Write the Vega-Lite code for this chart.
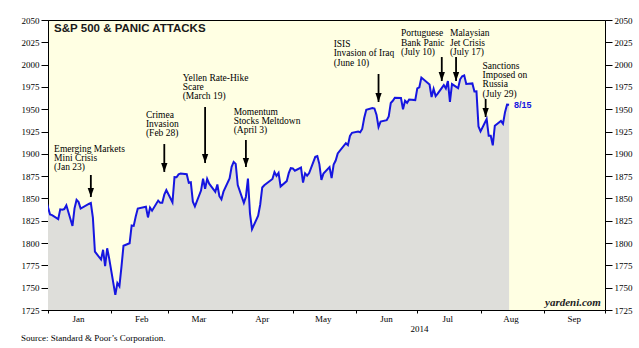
{
  "$schema": "https://vega.github.io/schema/vega-lite/v6.json",
  "width": 557,
  "height": 290,
  "autosize": {"type": "none"},
  "padding": {"left": 48, "top": 20, "right": 34, "bottom": 38},
  "background": "white",
  "config": {
    "view": {"stroke": "black", "strokeWidth": 1, "fill": "#ffffe3"},
    "axis": {"grid": false, "domainColor": "black", "tickColor": "black", "labelColor": "black", "labelFont": "Liberation Serif", "labelFontSize": 9, "titleFont": "Liberation Serif", "titleFontWeight": "normal", "titleFontSize": 9, "titleColor": "black", "labelFlush": false, "labelOverlap": false}
  },
  "title": {"text": "Source: Standard & Poor\u2019s Corporation.", "orient": "bottom", "anchor": "start", "font": "Liberation Serif", "fontSize": 9, "fontWeight": "normal", "color": "black", "offset": 1, "baseline": "top"},
  "datasets": {
    "sp": [
      {"d": "2013-12-31", "v": 1848.36},
      {"d": "2014-01-02", "v": 1831.98}, {"d": "2014-01-03", "v": 1831.37}, {"d": "2014-01-06", "v": 1826.77}, {"d": "2014-01-07", "v": 1837.88}, {"d": "2014-01-08", "v": 1837.49}, {"d": "2014-01-09", "v": 1838.13}, {"d": "2014-01-10", "v": 1842.37}, {"d": "2014-01-13", "v": 1819.20}, {"d": "2014-01-14", "v": 1838.88}, {"d": "2014-01-15", "v": 1848.38}, {"d": "2014-01-16", "v": 1845.89}, {"d": "2014-01-17", "v": 1838.70}, {"d": "2014-01-21", "v": 1843.80}, {"d": "2014-01-22", "v": 1844.86}, {"d": "2014-01-23", "v": 1828.46}, {"d": "2014-01-24", "v": 1790.29}, {"d": "2014-01-27", "v": 1781.56}, {"d": "2014-01-28", "v": 1792.50}, {"d": "2014-01-29", "v": 1774.20}, {"d": "2014-01-30", "v": 1794.19}, {"d": "2014-01-31", "v": 1782.59},
      {"d": "2014-02-03", "v": 1741.89}, {"d": "2014-02-04", "v": 1755.20}, {"d": "2014-02-05", "v": 1751.64}, {"d": "2014-02-06", "v": 1773.43}, {"d": "2014-02-07", "v": 1797.02}, {"d": "2014-02-10", "v": 1799.84}, {"d": "2014-02-11", "v": 1819.75}, {"d": "2014-02-12", "v": 1819.26}, {"d": "2014-02-13", "v": 1829.83}, {"d": "2014-02-14", "v": 1838.63}, {"d": "2014-02-18", "v": 1840.76}, {"d": "2014-02-19", "v": 1828.75}, {"d": "2014-02-20", "v": 1839.78}, {"d": "2014-02-21", "v": 1836.25}, {"d": "2014-02-24", "v": 1847.61}, {"d": "2014-02-25", "v": 1845.12}, {"d": "2014-02-26", "v": 1845.16}, {"d": "2014-02-27", "v": 1854.29}, {"d": "2014-02-28", "v": 1859.45},
      {"d": "2014-03-03", "v": 1845.73}, {"d": "2014-03-04", "v": 1873.91}, {"d": "2014-03-05", "v": 1873.81}, {"d": "2014-03-06", "v": 1877.03}, {"d": "2014-03-07", "v": 1878.04}, {"d": "2014-03-10", "v": 1877.17}, {"d": "2014-03-11", "v": 1867.63}, {"d": "2014-03-12", "v": 1868.20}, {"d": "2014-03-13", "v": 1846.34}, {"d": "2014-03-14", "v": 1841.13}, {"d": "2014-03-17", "v": 1858.83}, {"d": "2014-03-18", "v": 1872.25}, {"d": "2014-03-19", "v": 1860.77}, {"d": "2014-03-20", "v": 1872.01}, {"d": "2014-03-21", "v": 1866.52}, {"d": "2014-03-24", "v": 1857.44}, {"d": "2014-03-25", "v": 1865.62}, {"d": "2014-03-26", "v": 1852.56}, {"d": "2014-03-27", "v": 1849.04}, {"d": "2014-03-28", "v": 1857.62}, {"d": "2014-03-31", "v": 1872.34},
      {"d": "2014-04-01", "v": 1885.52}, {"d": "2014-04-02", "v": 1890.90}, {"d": "2014-04-03", "v": 1888.77}, {"d": "2014-04-04", "v": 1865.09}, {"d": "2014-04-07", "v": 1845.04}, {"d": "2014-04-08", "v": 1851.96}, {"d": "2014-04-09", "v": 1872.18}, {"d": "2014-04-10", "v": 1833.08}, {"d": "2014-04-11", "v": 1815.69}, {"d": "2014-04-14", "v": 1830.61}, {"d": "2014-04-15", "v": 1842.98}, {"d": "2014-04-16", "v": 1862.31}, {"d": "2014-04-17", "v": 1864.85}, {"d": "2014-04-21", "v": 1871.89}, {"d": "2014-04-22", "v": 1879.55}, {"d": "2014-04-23", "v": 1875.39}, {"d": "2014-04-24", "v": 1878.61}, {"d": "2014-04-25", "v": 1863.40}, {"d": "2014-04-28", "v": 1869.43}, {"d": "2014-04-29", "v": 1878.33}, {"d": "2014-04-30", "v": 1883.95},
      {"d": "2014-05-01", "v": 1883.68}, {"d": "2014-05-02", "v": 1881.14}, {"d": "2014-05-05", "v": 1884.66}, {"d": "2014-05-06", "v": 1867.72}, {"d": "2014-05-07", "v": 1878.21}, {"d": "2014-05-08", "v": 1875.63}, {"d": "2014-05-09", "v": 1878.48}, {"d": "2014-05-12", "v": 1896.65}, {"d": "2014-05-13", "v": 1897.45}, {"d": "2014-05-14", "v": 1888.53}, {"d": "2014-05-15", "v": 1870.85}, {"d": "2014-05-16", "v": 1877.86}, {"d": "2014-05-19", "v": 1885.08}, {"d": "2014-05-20", "v": 1872.83}, {"d": "2014-05-21", "v": 1888.03}, {"d": "2014-05-22", "v": 1892.49}, {"d": "2014-05-23", "v": 1900.53}, {"d": "2014-05-27", "v": 1911.91}, {"d": "2014-05-28", "v": 1909.78}, {"d": "2014-05-29", "v": 1920.03}, {"d": "2014-05-30", "v": 1923.57},
      {"d": "2014-06-02", "v": 1924.97}, {"d": "2014-06-03", "v": 1924.24}, {"d": "2014-06-04", "v": 1927.88}, {"d": "2014-06-05", "v": 1940.46}, {"d": "2014-06-06", "v": 1949.44}, {"d": "2014-06-09", "v": 1951.27}, {"d": "2014-06-10", "v": 1950.79}, {"d": "2014-06-11", "v": 1943.89}, {"d": "2014-06-12", "v": 1930.11}, {"d": "2014-06-13", "v": 1936.16}, {"d": "2014-06-16", "v": 1937.78}, {"d": "2014-06-17", "v": 1941.99}, {"d": "2014-06-18", "v": 1956.98}, {"d": "2014-06-19", "v": 1959.48}, {"d": "2014-06-20", "v": 1962.87}, {"d": "2014-06-23", "v": 1962.61}, {"d": "2014-06-24", "v": 1949.98}, {"d": "2014-06-25", "v": 1959.53}, {"d": "2014-06-26", "v": 1957.22}, {"d": "2014-06-27", "v": 1960.96}, {"d": "2014-06-30", "v": 1960.23},
      {"d": "2014-07-01", "v": 1973.32}, {"d": "2014-07-02", "v": 1974.62}, {"d": "2014-07-03", "v": 1985.44}, {"d": "2014-07-07", "v": 1977.65}, {"d": "2014-07-08", "v": 1963.71}, {"d": "2014-07-09", "v": 1972.83}, {"d": "2014-07-10", "v": 1964.68}, {"d": "2014-07-11", "v": 1967.57}, {"d": "2014-07-14", "v": 1977.10}, {"d": "2014-07-15", "v": 1973.28}, {"d": "2014-07-16", "v": 1981.57}, {"d": "2014-07-17", "v": 1958.12}, {"d": "2014-07-18", "v": 1978.22}, {"d": "2014-07-21", "v": 1973.63}, {"d": "2014-07-22", "v": 1983.53}, {"d": "2014-07-23", "v": 1987.01}, {"d": "2014-07-24", "v": 1987.98}, {"d": "2014-07-25", "v": 1978.34}, {"d": "2014-07-28", "v": 1978.91}, {"d": "2014-07-29", "v": 1969.95}, {"d": "2014-07-30", "v": 1970.07}, {"d": "2014-07-31", "v": 1930.67},
      {"d": "2014-08-01", "v": 1925.15}, {"d": "2014-08-04", "v": 1938.99}, {"d": "2014-08-05", "v": 1920.21}, {"d": "2014-08-06", "v": 1920.24}, {"d": "2014-08-07", "v": 1909.57}, {"d": "2014-08-08", "v": 1931.59}, {"d": "2014-08-11", "v": 1936.92}, {"d": "2014-08-12", "v": 1933.75}, {"d": "2014-08-13", "v": 1946.72}, {"d": "2014-08-14", "v": 1955.18}, {"d": "2014-08-15", "v": 1955.06}
    ],
    "arrows": [
      {"d": "2014-01-22", "top": 1876.3, "tip": 1851.6},
      {"d": "2014-02-27", "top": 1911.0, "tip": 1879.7},
      {"d": "2014-03-19", "top": 1952.5, "tip": 1889.7},
      {"d": "2014-04-08", "top": 1915.5, "tip": 1885.3},
      {"d": "2014-06-12", "top": 1989.5, "tip": 1958.1},
      {"d": "2014-07-13", "top": 2008.5, "tip": 1981.6},
      {"d": "2014-07-20", "top": 2008.5, "tip": 1981.6},
      {"d": "2014-08-03T12:00:00Z", "top": 1961.5, "tip": 1941.3}
    ],
    "notes": [
      {"d": "2014-01-04", "v": 1905.4, "t": "Emerging Markets"},
      {"d": "2014-01-04", "v": 1895.3, "t": "Mini Crisis"},
      {"d": "2014-01-04", "v": 1885.3, "t": "(Jan 23)"},
      {"d": "2014-02-18", "v": 1943.5, "t": "Crimea"},
      {"d": "2014-02-18", "v": 1933.4, "t": "Invasion"},
      {"d": "2014-02-18", "v": 1923.4, "t": "(Feb 28)"},
      {"d": "2014-03-08", "v": 1985.0, "t": "Yellen Rate-Hike"},
      {"d": "2014-03-08", "v": 1974.9, "t": "Scare"},
      {"d": "2014-03-08", "v": 1964.8, "t": "(March 19)"},
      {"d": "2014-04-02", "v": 1946.9, "t": "Momentum"},
      {"d": "2014-04-02", "v": 1936.8, "t": "Stocks Meltdown"},
      {"d": "2014-04-02", "v": 1926.7, "t": "(April 3)"},
      {"d": "2014-05-21", "v": 2023.1, "t": "ISIS"},
      {"d": "2014-05-21", "v": 2012.5, "t": "Invasion of Iraq"},
      {"d": "2014-05-21", "v": 2001.8, "t": "(June 10)"},
      {"d": "2014-06-23", "v": 2035.1, "t": "Portuguese"},
      {"d": "2014-06-23", "v": 2024.6, "t": "Bank Panic"},
      {"d": "2014-06-23", "v": 2013.8, "t": "(July 10)"},
      {"d": "2014-07-17", "v": 2035.1, "t": "Malaysian"},
      {"d": "2014-07-17", "v": 2024.6, "t": "Jet Crisis"},
      {"d": "2014-07-17", "v": 2013.8, "t": "(July 17)"},
      {"d": "2014-08-02", "v": 1998.4, "t": "Sanctions"},
      {"d": "2014-08-02", "v": 1988.0, "t": "Imposed on"},
      {"d": "2014-08-02", "v": 1977.9, "t": "Russia"},
      {"d": "2014-08-02", "v": 1967.4, "t": "(July 29)"}
    ],
    "heading": [{"d": "2014-01-04", "v": 2039.9, "t": "S&P 500 & PANIC ATTACKS"}],
    "brand": [{"d": "2014-09-29", "v": 1732.8, "t": "yardeni.com"}],
    "last": [{"d": "2014-08-15", "v": 1955.06, "t": "8/15"}]
  },
  "layer": [
    {
      "data": {"name": "sp"},
      "mark": {"type": "area", "color": "#dedeDA", "clip": true},
      "encoding": {
        "x": {"field": "d", "type": "temporal",
          "scale": {"type": "utc", "domain": [{"year": 2014, "month": 1, "date": 1, "utc": true}, {"year": 2014, "month": 10, "date": 1, "utc": true}]},
          "axis": {
            "title": "2014", "titleX": 371, "titleY": 14, "titleBaseline": "top", "titleAlign": "center", "titleAnchor": null,
            "values": [
              {"year": 2014, "month": 1, "date": 1, "utc": true}, {"year": 2014, "month": 2, "date": 1, "utc": true}, {"year": 2014, "month": 3, "date": 1, "utc": true},
              {"year": 2014, "month": 4, "date": 1, "utc": true}, {"year": 2014, "month": 5, "date": 1, "utc": true}, {"year": 2014, "month": 6, "date": 1, "utc": true},
              {"year": 2014, "month": 7, "date": 1, "utc": true}, {"year": 2014, "month": 8, "date": 1, "utc": true}, {"year": 2014, "month": 9, "date": 1, "utc": true},
              {"year": 2014, "month": 10, "date": 1, "utc": true}
            ],
            "labelExpr": "utcmonth(datum.value) == 9 ? '' : utcFormat(datum.value, '%b')",
            "labelOffset": 30, "tickSize": 3, "labelPadding": 1, "labelBound": false
          }
        },
        "y": {"field": "v", "type": "quantitative",
          "scale": {"domain": [1725, 2050], "nice": false, "zero": false},
          "axis": {"orient": "left", "title": null, "format": "d", "values": [1725, 1750, 1775, 1800, 1825, 1850, 1875, 1900, 1925, 1950, 1975, 2000, 2025, 2050], "tickSize": 7, "labelPadding": 2}
        },
        "y2": {"datum": 1725}
      }
    },
    {
      "data": {"name": "sp"},
      "mark": {"type": "line", "color": "#1616e0", "strokeWidth": 2, "clip": true},
      "encoding": {
        "x": {"field": "d", "type": "temporal"},
        "y": {"field": "v", "type": "quantitative",
          "axis": {"orient": "right", "title": null, "format": "d", "values": [1725, 1750, 1775, 1800, 1825, 1850, 1875, 1900, 1925, 1950, 1975, 2000, 2025, 2050], "tickSize": 7, "labelPadding": 2}
        }
      }
    },
    {
      "data": {"name": "arrows"},
      "mark": {"type": "rule", "color": "black", "strokeWidth": 1.8},
      "encoding": {
        "x": {"field": "d", "type": "temporal"},
        "y": {"field": "top", "type": "quantitative", "axis": null},
        "y2": {"field": "tip"}
      }
    },
    {
      "data": {"name": "arrows"},
      "mark": {"type": "point", "shape": "M-0.7,-2L0.7,-2L0,0Z", "size": 81, "filled": true, "color": "black", "opacity": 1},
      "encoding": {
        "x": {"field": "d", "type": "temporal"},
        "y": {"field": "tip", "type": "quantitative", "axis": null}
      }
    },
    {
      "data": {"name": "notes"},
      "mark": {"type": "text", "align": "left", "baseline": "middle", "font": "Liberation Serif", "fontSize": 9.5, "color": "black"},
      "encoding": {
        "x": {"field": "d", "type": "temporal"},
        "y": {"field": "v", "type": "quantitative", "axis": null},
        "text": {"field": "t", "type": "nominal"}
      }
    },
    {
      "data": {"name": "heading"},
      "mark": {"type": "text", "align": "left", "baseline": "middle", "font": "Liberation Sans", "fontSize": 11.5, "fontWeight": "bold", "color": "#1a1a1a"},
      "encoding": {
        "x": {"field": "d", "type": "temporal"},
        "y": {"field": "v", "type": "quantitative", "axis": null},
        "text": {"field": "t", "type": "nominal"}
      }
    },
    {
      "data": {"name": "brand"},
      "mark": {"type": "text", "align": "right", "baseline": "middle", "font": "Liberation Serif", "fontSize": 11, "fontWeight": "bold", "fontStyle": "italic", "color": "#222222"},
      "encoding": {
        "x": {"field": "d", "type": "temporal"},
        "y": {"field": "v", "type": "quantitative", "axis": null},
        "text": {"field": "t", "type": "nominal"}
      }
    },
    {
      "data": {"name": "last"},
      "mark": {"type": "text", "align": "left", "baseline": "middle", "dx": 5, "font": "Liberation Sans", "fontSize": 9, "fontWeight": "bold", "color": "#1616e0"},
      "encoding": {
        "x": {"field": "d", "type": "temporal"},
        "y": {"field": "v", "type": "quantitative", "axis": null},
        "text": {"field": "t", "type": "nominal"}
      }
    }
  ],
  "resolve": {"axis": {"y": "independent"}}
}
